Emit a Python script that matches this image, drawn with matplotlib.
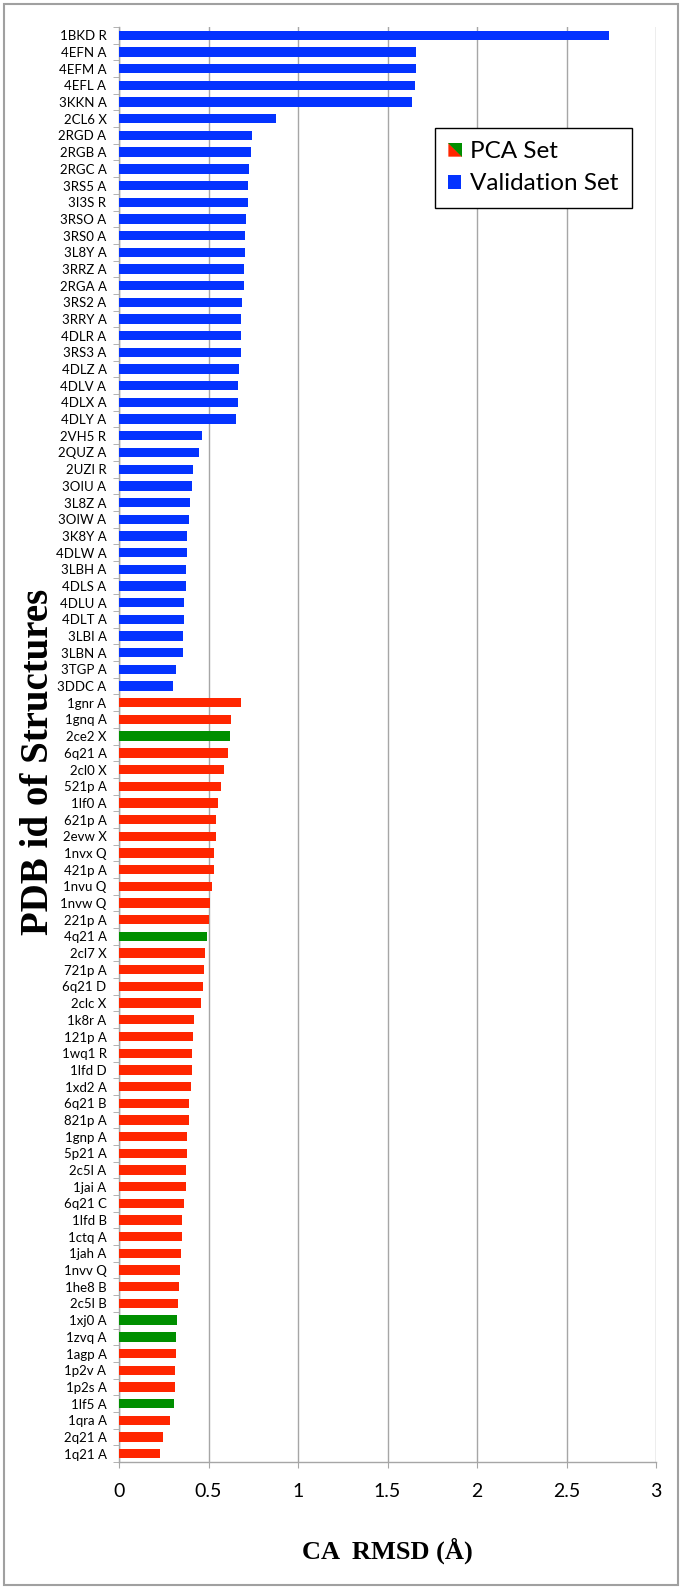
import numpy as np
import matplotlib
matplotlib.use('Agg')
import matplotlib.pyplot as plt
from matplotlib.patches import Polygon, Rectangle
from matplotlib.legend_handler import HandlerBase

# validation set (blue)
val_ids = ['1BKD R', '4EFN A', '4EFM A', '4EFL A', '3KKN A', '2CL6 X', '2RGD A', '2RGB A',
           '2RGC A', '3RS5 A', '3I3S R', '3RSO A', '3RS0 A', '3L8Y A', '3RRZ A', '2RGA A',
           '3RS2 A', '3RRY A', '4DLR A', '3RS3 A', '4DLZ A', '4DLV A', '4DLX A', '4DLY A',
           '2VH5 R', '2QUZ A', '2UZI R', '3OIU A', '3L8Z A', '3OIW A', '3K8Y A', '4DLW A',
           '3LBH A', '4DLS A', '4DLU A', '4DLT A', '3LBI A', '3LBN A', '3TGP A', '3DDC A']
val_rmsd = [2.737, 1.662, 1.662, 1.655, 1.638, 0.878, 0.743, 0.735,
            0.726, 0.719, 0.719, 0.711, 0.704, 0.704, 0.696, 0.696,
            0.687, 0.680, 0.680, 0.680, 0.670, 0.665, 0.665, 0.656,
            0.461, 0.446, 0.413, 0.406, 0.398, 0.389, 0.381, 0.381,
            0.374, 0.374, 0.365, 0.365, 0.357, 0.357, 0.319, 0.302]

# PCA set (red, green marks the highlighted ones)
pca_ids = ['1gnr A', '1gnq A', '2ce2 X', '6q21 A', '2cl0 X', '521p A', '1lf0 A', '621p A',
           '2evw X', '1nvx Q', '421p A', '1nvu Q', '1nvw Q', '221p A', '4q21 A', '2cl7 X',
           '721p A', '6q21 D', '2clc X', '1k8r A', '121p A', '1wq1 R', '1lfd D', '1xd2 A',
           '6q21 B', '821p A', '1gnp A', '5p21 A', '2c5l A', '1jai A', '6q21 C', '1lfd B',
           '1ctq A', '1jah A', '1nvv Q', '1he8 B', '2c5l B', '1xj0 A', '1zvq A', '1agp A',
           '1p2v A', '1p2s A', '1lf5 A', '1qra A', '2q21 A', '1q21 A']
pca_rmsd = [0.683, 0.628, 0.619, 0.611, 0.589, 0.572, 0.552, 0.544,
            0.544, 0.531, 0.531, 0.522, 0.509, 0.500, 0.491, 0.480,
            0.476, 0.467, 0.459, 0.419, 0.415, 0.407, 0.406, 0.404,
            0.393, 0.391, 0.381, 0.380, 0.374, 0.372, 0.365, 0.354,
            0.352, 0.346, 0.343, 0.333, 0.329, 0.322, 0.317, 0.317,
            0.314, 0.312, 0.310, 0.285, 0.244, 0.229]
pca_green = ['2ce2 X', '4q21 A', '1xj0 A', '1zvq A', '1lf5 A']

BLUE = '#0433FF'
RED = '#FF2600'
GREEN = '#008F00'
GRID = '#a6a6a6'

plt.rcParams['font.family'] = ['Lato', 'DejaVu Sans']

labels = val_ids + pca_ids
values = val_rmsd + pca_rmsd
colors = [BLUE] * len(val_ids) + [GREEN if p in pca_green else RED for p in pca_ids]
ypos = np.arange(len(labels))

# axes box in pixels
L, R, T, B = 119, 656, 27, 1462
fig = plt.figure(figsize=(6.83, 15.9), dpi=100)
ax = fig.add_axes([L/683, 1 - B/1590, (R-L)/683, (B-T)/1590])

ax.barh(ypos, values, height=0.56, color=colors, zorder=3)
ax.set_ylim(len(labels) - 0.5, -0.5)
ax.set_xlim(0, 3)
ax.set_xticks(np.arange(0, 3.01, 0.5))
ax.set_xticklabels(['0', '0.5', '1', '1.5', '2', '2.5', '3'])
ax.set_yticks(ypos)
ax.set_yticklabels(labels)
ax.set_yticks(np.arange(-0.5, len(labels), 1), minor=True)

ax.grid(axis='x', color=GRID, lw=1, zorder=0)
for s in ['top', 'right']:
    ax.spines[s].set_visible(False)
for s in ['left', 'bottom']:
    ax.spines[s].set_color(GRID)
    ax.spines[s].set_linewidth(1)

ax.tick_params(axis='y', which='major', length=0, pad=9, labelsize=9.5)
ax.tick_params(axis='y', which='minor', length=4, color=GRID, direction='out')
ax.tick_params(axis='x', length=4, color=GRID, pad=11, labelsize=14)

ax.set_xlabel('CA  RMSD (Å)', family=['Liberation Serif', 'DejaVu Serif'],
              fontweight='bold', fontsize=19)
ax.xaxis.set_label_coords(0.5, -(1538 - B) / (B - T))
ax.set_ylabel('PDB id of Structures', family=['Liberation Serif', 'DejaVu Serif'],
              fontweight='bold', fontsize=28)
ax.yaxis.set_label_coords(-(L - 57) / (R - L), 0.488)


class SplitSquare(HandlerBase):
    def create_artists(self, legend, orig, xd, yd, w, h, fontsize, trans):
        s = h
        x0, y0 = -xd, -yd
        red = Polygon([(x0, y0), (x0, y0 + s), (x0 + s, y0)], closed=True,
                      facecolor=RED, edgecolor='none', transform=trans)
        green = Polygon([(x0, y0 + s), (x0 + s, y0 + s), (x0 + s, y0)], closed=True,
                        facecolor=GREEN, edgecolor='none', transform=trans)
        return [red, green]


pca_handle = Rectangle((0, 0), 1, 1, facecolor=RED)
val_handle = Rectangle((0, 0), 1, 1, facecolor=BLUE)
leg = ax.legend([pca_handle, val_handle], ['PCA Set', 'Validation Set'],
                handler_map={pca_handle: SplitSquare()},
                loc='upper left', bbox_to_anchor=((435 - L) / (R - L), (B - 128) / (B - T)),
                fancybox=False, edgecolor='black', framealpha=1,
                fontsize=17.5, handlelength=0.5, handleheight=0.5,
                handletextpad=0.4, labelspacing=0.45, borderpad=0.55,
                borderaxespad=0)
leg.get_frame().set_linewidth(1)
leg.set_zorder(5)

# grey frame round the whole picture
fig.patches.append(Rectangle((4/683, 5/1590), 674/683, 1581/1590, transform=fig.transFigure,
                             fill=False, edgecolor='#a0a0a0', lw=1.5))

plt.savefig('out.png', dpi=100)
plt.close()
